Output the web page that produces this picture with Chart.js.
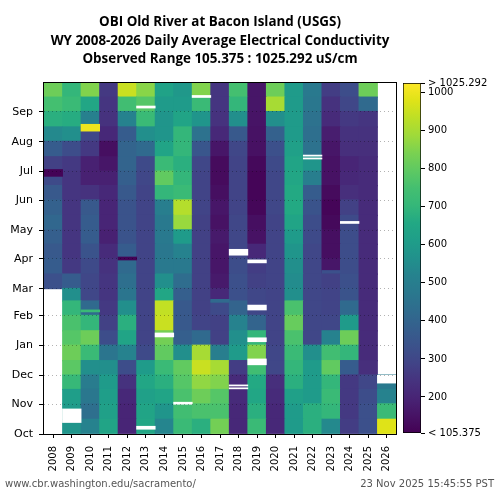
<!DOCTYPE html>
<html>
<head>
<meta charset="utf-8">
<script src="https://cdn.jsdelivr.net/npm/chart.js@4.4.1/dist/chart.umd.min.js"></script>
<style>
  html, body { margin: 0; padding: 0; background: #fff; }
  #wrap { position: relative; width: 500px; height: 500px; overflow: hidden; }
  #main { position: absolute; left: 0; top: 0; }
  #cbar { position: absolute; left: 395px; top: 0; }
  .title { position: absolute; left: 0; top: 12px; width: 440px; text-align: center;
           font: bold 13.4px "Open Sans", "Noto Sans", sans-serif; line-height: 18.5px; color: #000; }
  .foot { position: absolute; top: 478px; font: 10px "DejaVu Sans", sans-serif; color: #555; white-space: nowrap; }
</style>
</head>
<body>
<div id="wrap">
  <canvas id="main" width="500" height="500"></canvas>
  <canvas id="cbar" width="105" height="500"></canvas>
  <div class="title">OBI Old River at Bacon Island (USGS)<br>WY 2008-2026 Daily Average Electrical Conductivity<br>Observed Range 105.375 : 1025.292 uS/cm</div>
  <div class="foot" style="left:5px">www.cbr.washington.edu/sacramento/</div>
  <div class="foot" style="right:6px">23 Nov 2025 15:45:55 PST</div>
</div>
<script>
// water years (columns) and months (rows, Oct at bottom)
const years = ['2008','2009','2010','2011','2012','2013','2014','2015','2016','2017','2018','2019','2020','2021','2022','2023','2024','2025','2026'];
const monthNames = ['Oct','Nov','Dec','Jan','Feb','Mar','Apr','May','Jun','Jul','Aug','Sep'];
const monthDays = [31, 30, 31, 31, 28, 31, 30, 31, 30, 31, 31, 30];

// half-month mean EC (uS/cm): Oct 1-15, Oct 16-31, Nov 1-15, ... Sep 16-30
const wy2008 = [null, null, null, null, null, null, null, null, null, null, 330, 370, 360, 380, 410, 390, 360, 310, 280, 370, 540, 680, 750, 820];
const wy2009 = [580, 600, 610, 710, 790, 820, 780, 760, 700, 560, 370, 260, 250, 250, 250, 250, 250, 250, 260, 320, 560, 670, 720, 700];
const wy2010 = [520, 440, 470, 490, 560, 720, 820, 700, 420, 300, 300, 310, 340, 370, 370, 360, 240, 190, 190, 260, 300, 510, 650, 850];
const wy2011 = [640, 620, 610, 600, 560, 460, 320, 280, 260, 250, 250, 240, 220, 190, 200, 200, 210, 190, 160, 140, 210, 240, 250, 260];
const wy2012 = [200, 200, 210, 240, 320, 520, 640, 680, 560, 460, 440, 420, 370, 340, 340, 340, 360, 380, 400, 400, 370, 520, 740, 950];
const wy2013 = [650, 640, 620, 650, 600, 310, 290, 290, 290, 290, 290, 290, 290, 290, 290, 290, 290, 300, 310, 420, 560, 720, 780, 860];
const wy2014 = [530, 580, 640, 680, 720, 800, 830, 950, 940, 650, 560, 480, 470, 480, 480, 500, 700, 800, 720, 640, 580, 580, 600, 630];
const wy2015 = [720, 740, 760, 780, 800, 560, 380, 360, 360, 380, 430, 480, 520, 600, 880, 920, 720, 700, 680, 700, 700, 640, 600, 590];
const wy2016 = [680, 760, 820, 870, 950, 900, 420, 290, 280, 280, 280, 280, 280, 280, 280, 290, 290, 290, 300, 350, 450, 580, 720, 850];
const wy2017 = [830, 760, 780, 850, 900, 500, 280, 280, 310, 210, 170, 160, 160, 170, 150, 160, 140, 130, 130, 160, 210, 240, 250, 250];
const wy2018 = [210, 210, 220, 220, 270, 600, 560, 520, 400, 330, 330, 320, 300, 300, 300, 290, 290, 290, 290, 300, 360, 560, 700, 750];
const wy2019 = [720, 680, 650, 660, 740, 850, 700, 400, 300, 300, 280, 270, 210, 150, 140, 120, 115, 115, 125, 145, 150, 155, 160, 160];
const wy2020 = [210, 210, 220, 230, 300, 300, 290, 290, 290, 290, 290, 290, 290, 290, 290, 300, 300, 300, 310, 330, 390, 560, 900, 820];
const wy2021 = [600, 600, 620, 680, 700, 720, 760, 810, 760, 560, 550, 560, 580, 600, 640, 660, 660, 650, 640, 620, 600, 600, 600, 600];
const wy2022 = [680, 680, 600, 600, 600, 560, 300, 300, 300, 300, 300, 300, 300, 310, 320, 340, 370, 500, 580, 450, 440, 450, 470, 480];
const wy2023 = [540, 700, 720, 700, 800, 740, 520, 300, 290, 290, 280, 160, 140, 140, 125, 115, 130, 150, 150, 160, 180, 220, 240, 270];
const wy2024 = [270, 260, 260, 260, 370, 700, 820, 600, 420, 340, 330, 320, 320, 320, 310, 280, 230, 210, 200, 230, 240, 260, 300, 320];
const wy2025 = [330, 330, 320, 300, 230, 220, 220, 220, 220, 220, 220, 220, 220, 220, 220, 220, 220, 220, 220, 230, 240, 250, 420, 820];
const wy2026 = [980, 720, 520, 480, null, null, null, null, null, null, null, null, null, null, null, null, null, null, null, null, null, null, null, null];

// short events that the half-month means smooth out: [year, first day, last day, EC]  (day 0 = Oct 1)
const shortEvents = [[2008, 268, 274, 110], [2010, 315, 321, 1000], [2010, 127, 128, 720], [2012, 181, 183, 110], [2017, 137, 139, 420], [2023, 167, 169, 330]];
// days without data: [year, first day, last day]
const missingDays = [[2009, 12, 25], [2013, 5, 7], [2013, 339, 340], [2014, 101, 104], [2015, 31, 32], [2016, 350, 351],
  [2018, 47, 47], [2018, 50, 50], [2018, 186, 191], [2019, 72, 77], [2019, 96, 99], [2019, 129, 133], [2019, 178, 180],
  [2022, 286, 286], [2022, 289, 289], [2024, 219, 220], [2026, 53, 60]];

const cbMin = 105.375;
const cbMax = 1025.292;
const cbTicks = [105.375, 200, 300, 400, 500, 600, 700, 800, 900, 1000, 1025.292];

const series = [wy2008, wy2009, wy2010, wy2011, wy2012, wy2013, wy2014, wy2015, wy2016, wy2017, wy2018, wy2019, wy2020, wy2021, wy2022, wy2023, wy2024, wy2025, wy2026];

// viridis colour stops
const viridisStops = ['#440154','#471365','#482475','#46337f','#414487','#3b528b','#355f8d','#2f6c8e','#2a788e','#26828e','#21918c',
  '#1f9e89','#22a884','#35b779','#44bf70','#5ec962','#7ad151','#9fda3a','#bddf26','#dfe318','#fde725'];

function hexRgb(h) {
  return [parseInt(h.slice(1, 3), 16), parseInt(h.slice(3, 5), 16), parseInt(h.slice(5, 7), 16)];
}

function viridis(v) {
  if (v == null) return '#fff';
  let t = (v - cbMin) / (cbMax - cbMin);
  t = Math.max(0, Math.min(1, t)) * (viridisStops.length - 1);
  const i = Math.min(Math.floor(t), viridisStops.length - 2);
  const f = t - i;
  const a = hexRgb(viridisStops[i]), b = hexRgb(viridisStops[i + 1]);
  return 'rgb(' + a.map((c, k) => Math.round(c + (b[k] - c) * f)).join(',') + ')';
}

// half-month bins and month starts in days from Oct 1
const binEdges = [];
const monthStarts = [];
let day = 0;
monthDays.forEach(n => {
  monthStarts.push(day);
  binEdges.push([day, day + 15]);
  binEdges.push([day + 15, day + n]);
  day += n;
});

const datasets = binEdges.map((edge, b) => ({
  data: series.map(s => s[b] == null ? null : [edge[0], edge[1] + 0.5]),
  backgroundColor: series.map(s => viridis(s[b])),
  grouped: false,
  order: 2
}));

shortEvents.forEach(([yr, a, b, v]) => {
  datasets.push({
    data: years.map(y => +y === yr ? [a, b + 1] : null),
    backgroundColor: viridis(v),
    grouped: false,
    order: 1
  });
});

missingDays.forEach(([yr, a, b]) => {
  datasets.push({
    data: years.map(y => +y === yr ? [a, b + 1] : null),
    backgroundColor: '#fff',
    grouped: false,
    order: 0
  });
});

const tickFont = { family: 'DejaVu Sans', size: 10 };

const framePlugin = {
  id: 'frame',
  afterDraw(chart) {
    const { ctx, chartArea: a } = chart;
    ctx.save();
    ctx.strokeStyle = '#000';
    ctx.lineWidth = 1;
    ctx.strokeRect(a.left - 0.5, a.top - 0.5, a.right - a.left + 1, a.bottom - a.top + 1);
    ctx.restore();
  }
};

new Chart(document.getElementById('main'), {
  type: 'bar',
  data: { labels: years, datasets: datasets },
  options: {
    responsive: false,
    animation: false,
    layout: { padding: { top: 83, right: 104, bottom: 20, left: 0 } },
    plugins: { legend: { display: false }, tooltip: { enabled: false } },
    datasets: { bar: { barPercentage: 1, categoryPercentage: 1, borderWidth: 0, inflateAmount: 0.4 } },
    scales: {
      x: {
        offset: true,
        grid: { offset: false, drawOnChartArea: false, tickLength: 4, tickColor: '#000' },
        border: { display: false },
        ticks: { minRotation: 90, maxRotation: 90, color: '#000', font: tickFont, padding: 8 },
        afterFit: s => { s.height = 46; }
      },
      y: {
        min: 0,
        max: 365,
        afterBuildTicks: s => { s.ticks = monthStarts.map(v => ({ value: v })); },
        grid: { z: 1, color: 'rgba(0,0,0,0.3)', tickLength: 5, tickColor: '#000', tickBorderDash: [] },
        border: { display: false, dash: [1, 3] },
        ticks: { callback: (v, i) => monthNames[i], color: '#000', font: { family: 'DejaVu Sans', size: 11 }, padding: 6, autoSkip: false },
        afterFit: s => { s.width = 44; }
      }
    }
  },
  plugins: [framePlugin]
});

// colour bar
new Chart(document.getElementById('cbar'), {
  type: 'bar',
  data: {
    labels: [''],
    datasets: [{
      data: [[cbMin, cbMax]],
      backgroundColor: c => {
        const area = c.chart.chartArea;
        if (!area) return '#fff';
        const g = c.chart.ctx.createLinearGradient(0, area.bottom, 0, area.top);
        viridisStops.forEach((col, i) => g.addColorStop(i / (viridisStops.length - 1), col));
        return g;
      },
      borderColor: '#000',
      borderWidth: 1,
      borderSkipped: false,
      barPercentage: 1,
      categoryPercentage: 1
    }]
  },
  options: {
    responsive: false,
    animation: false,
    layout: { padding: { top: 83, right: 0, bottom: 67, left: 8 } },
    plugins: { legend: { display: false }, tooltip: { enabled: false } },
    scales: {
      x: { display: false },
      y: {
        position: 'right',
        min: cbMin,
        max: cbMax,
        afterBuildTicks: s => { s.ticks = cbTicks.map(v => ({ value: v })); },
        grid: { drawOnChartArea: false, tickLength: 4, tickColor: '#000' },
        border: { display: false },
        ticks: {
          autoSkip: false,
          color: '#000',
          font: tickFont,
          padding: 3,
          callback: v => v === cbMax ? '> ' + cbMax : v === cbMin ? '< ' + cbMin : v
        },
        afterFit: s => { s.width = 79; }
      }
    }
  }
});
</script>
</body>
</html>
